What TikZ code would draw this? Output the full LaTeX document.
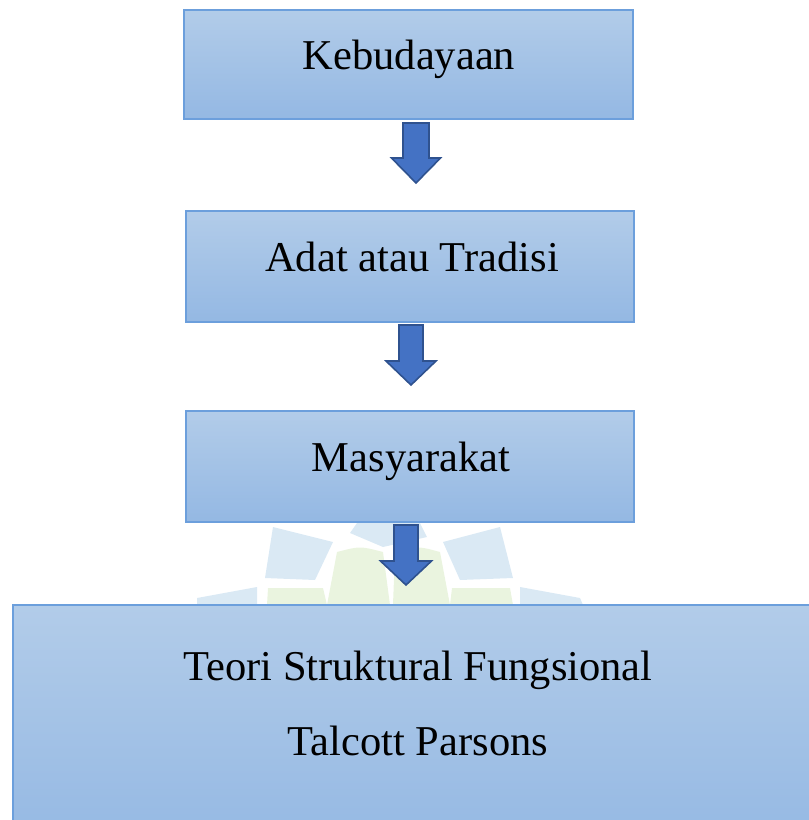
\documentclass[tikz,border=0pt]{standalone}
\usepackage{fontspec}
\setmainfont{Liberation Serif}
\definecolor{boxtop}{HTML}{B2CCE9}
\definecolor{boxbot}{HTML}{94B8E3}
\definecolor{boxline}{HTML}{6C9FDC}
\definecolor{arrfill}{HTML}{4472C4}
\definecolor{arrline}{HTML}{2F528F}
\definecolor{wmblue}{HTML}{DAE9F4}
\definecolor{wmgreen}{HTML}{EAF4DF}
\newcommand{\dnarrow}[6]{%
  \draw[flowarrow] (#1-#5,#2) -- (#1+#5,#2) -- (#1+#5,#3) -- (#1+#6,#3) -- (#1,#4) -- (#1-#6,#3) -- (#1-#5,#3) -- cycle;}
\begin{document}
\begin{tikzpicture}[x=1pt,y=-1pt,
  flowbox/.style={draw=boxline, line width=1.3pt, top color=boxtop, bottom color=boxbot, inner sep=0pt},
  flowarrow/.style={draw=arrline, line width=1.6pt, fill=arrfill, line join=miter},
  label/.style={font=\fontsize{42.5}{50}\selectfont, anchor=base, inner sep=0pt},
  wmb/.style={fill=wmblue, draw=none},
  wmg/.style={fill=wmgreen, draw=none}]
\useasboundingbox (0,0) rectangle (809,820);
\clip (0,0) rectangle (809,820);
% faint watermark
\fill[wmb] (273,527) -- (333,542) -- (315,580) -- (265,578) -- cycle;
\fill[wmb] (350,533) -- (383,547) -- (427,537) -- (420,523) -- (357,523) -- cycle;
\fill[wmb] (443,542) -- (500,527) -- (513,578) -- (460,580) -- cycle;
\fill[wmg] (337,552) .. controls (360,546) .. (383,552) -- (390,605) -- (327,605) -- cycle;
\fill[wmg] (395,552) .. controls (418,546) .. (440,552) -- (450,605) -- (393,605) -- cycle;
\fill[wmb] (197,598) -- (257,587) -- (257,605) -- (197,605) -- cycle;
\fill[wmg] (268,588) -- (323,588) -- (327,605) -- (267,605) -- cycle;
\fill[wmg] (452,588) -- (510,588) -- (513,605) -- (450,605) -- cycle;
\fill[wmb] (520,587) -- (580,598) -- (583,605) -- (520,605) -- cycle;
% boxes
\node[flowbox, minimum width=449pt, minimum height=109pt] (b1) at (408.5,64.5) {};
\node[flowbox, minimum width=448pt, minimum height=111pt] (b2) at (410,266.5) {};
\node[flowbox, minimum width=448pt, minimum height=111pt] (b3) at (410,466.5) {};
\node[flowbox, minimum width=830pt, minimum height=245pt] (b4) at (428,727.5) {};
% texts
\node[label] (t1) at (409,69) {Kebudayaan};
\node[label] (t2) at (412,271) {Adat atau Tradisi};
\node[label] (t3) at (411,471) {Masyarakat};
\node[label] (t4a) at (418,680) {Teori Struktural Fungsional};
\node[label] (t4b) at (418,755) {Talcott Parsons};
% arrows
\dnarrow{416}{123}{158}{183}{13}{24.5}
\dnarrow{411}{325}{361}{385}{12}{25}
\dnarrow{406}{525}{561}{585}{12}{25.5}
\end{tikzpicture}
\end{document}
